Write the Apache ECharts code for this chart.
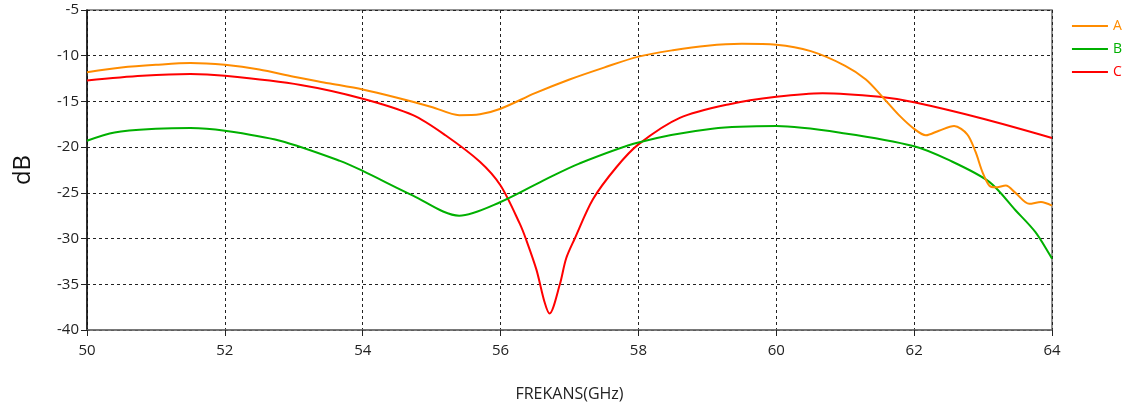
<!DOCTYPE html>
<html>
<head>
<meta charset="utf-8">
<script src="https://cdn.jsdelivr.net/npm/echarts@6/dist/echarts.min.js"></script>
<style>
  html, body { margin: 0; padding: 0; background: #fff; }
  #chart { width: 1139px; height: 412px; }
</style>
</head>
<body>
<div id="chart"></div>
<script>
// --------------------------------------------------------
// data (frequency in GHz, level in dB)
const seriesNames = ['A', 'B', 'C'];
const seriesColors = ['#ff8c00', '#00b000', '#ff0000'];

const freqA = [50, 50.5, 51, 51.5, 52, 52.5, 53, 53.5, 54, 54.5, 55, 55.4, 55.7, 56, 56.5, 57, 57.5, 58, 58.5, 59, 59.5, 60, 60.5, 61, 61.3, 61.54, 61.78, 62, 62.17, 62.36, 62.58, 62.77, 62.89, 62.99, 63.09, 63.18, 63.33, 63.47, 63.67, 63.84, 64];
const dbA   = [-11.8, -11.3, -11.0, -10.8, -11.0, -11.5, -12.3, -13.0, -13.7, -14.6, -15.6, -16.5, -16.4, -15.8, -14.1, -12.6, -11.3, -10.1, -9.4, -8.9, -8.7, -8.8, -9.5, -11.1, -12.6, -14.5, -16.5, -18.0, -18.7, -18.2, -17.7, -18.6, -20.5, -22.7, -24.2, -24.4, -24.2, -25.0, -26.2, -26.0, -26.4];

const freqB = [50, 50.4, 51, 51.5, 52, 52.8, 53.67, 54, 54.73, 55.4, 56, 56.66, 57.14, 58, 59.07, 60, 61, 62, 62.5, 63.09, 63.47, 63.76, 64];
const dbB   = [-19.3, -18.4, -18.0, -17.9, -18.2, -19.3, -21.5, -22.6, -25.3, -27.5, -26.0, -23.5, -21.8, -19.5, -18.0, -17.7, -18.5, -19.9, -21.4, -23.8, -26.9, -29.3, -32.2];

const freqC = [50, 50.8, 51.5, 52, 53.1, 54, 54.73, 55.2, 55.7, 56, 56.28, 56.37, 56.52, 56.64, 56.71, 56.86, 56.95, 57.07, 57.34, 57.68, 58, 58.6, 59.32, 60, 60.67, 61.5, 62, 63, 64];
const dbC   = [-12.7, -12.2, -12.0, -12.2, -13.2, -14.7, -16.5, -18.7, -21.6, -24.2, -28.4, -30.1, -33.4, -37.0, -38.2, -35.0, -32.2, -30.1, -25.7, -22.2, -19.7, -16.8, -15.3, -14.5, -14.1, -14.5, -15.1, -16.9, -19.0];

// axis ticks
const xTicks = [50, 52, 54, 56, 58, 60, 62, 64];
const yTicks = [-40, -35, -30, -25, -20, -15, -10, -5];

const freqs = [freqA, freqB, freqC];
const levels = [dbA, dbB, dbC];

// --------------------------------------------------------
// chart
var chartDom = document.getElementById('chart');
var myChart = echarts.init(chartDom);
var fontFamily = '"Open Sans", "DejaVu Sans", sans-serif';

var option = {
    animation: false,
    textStyle: { fontFamily: fontFamily },
    grid: {
        left: 87,
        right: 87,
        top: 10,
        bottom: 82,
        show: true,
        borderColor: '#707070',
        borderWidth: 1.5
    },
    legend: {
        orient: 'vertical',
        right: 12,
        top: 14,
        itemWidth: 36,
        itemHeight: 2,
        itemGap: 9,
        icon: 'rect',
        textStyle: { fontSize: 14, fontFamily: fontFamily },
        data: seriesNames.map((n, i) => ({ name: n, textStyle: { color: seriesColors[i] } }))
    },
    xAxis: {
        type: 'value',
        min: xTicks[0],
        max: xTicks[xTicks.length - 1],
        interval: 2,
        name: 'FREKANS(GHz)',
        nameLocation: 'middle',
        nameGap: 56,
        nameTextStyle: { fontSize: 16, color: '#222', fontFamily: fontFamily },
        axisLine: { lineStyle: { color: '#707070', width: 1.5 } },
        axisTick: { show: true, length: 6, lineStyle: { color: '#222' } },
        axisLabel: { fontSize: 15, color: '#222', margin: 13 },
        splitLine: { lineStyle: { color: '#222', type: [3, 3], width: 1 } }
    },
    yAxis: {
        type: 'value',
        min: yTicks[0],
        max: yTicks[yTicks.length - 1],
        interval: 5,
        name: 'dB',
        nameLocation: 'middle',
        nameGap: 52,
        nameRotate: 90,
        nameTextStyle: { fontSize: 24, color: '#111', fontFamily: fontFamily },
        axisLine: { show: true, lineStyle: { color: '#111', width: 1.5 } },
        axisTick: { show: true, length: 6, lineStyle: { color: '#222' } },
        axisLabel: { fontSize: 15, color: '#222', margin: 8 },
        splitLine: { lineStyle: { color: '#222', type: [3, 3], width: 1 } }
    },
    series: seriesNames.map((n, i) => ({
        name: n,
        type: 'line',
        data: freqs[i].map((f, j) => [f, levels[i][j]]),
        smooth: 0.3,
        showSymbol: false,
        symbol: 'none',
        lineStyle: { color: seriesColors[i], width: 2 },
        itemStyle: { color: seriesColors[i] },
        z: 3 - i
    }))
};

option && myChart.setOption(option);
</script>
</body>
</html>
